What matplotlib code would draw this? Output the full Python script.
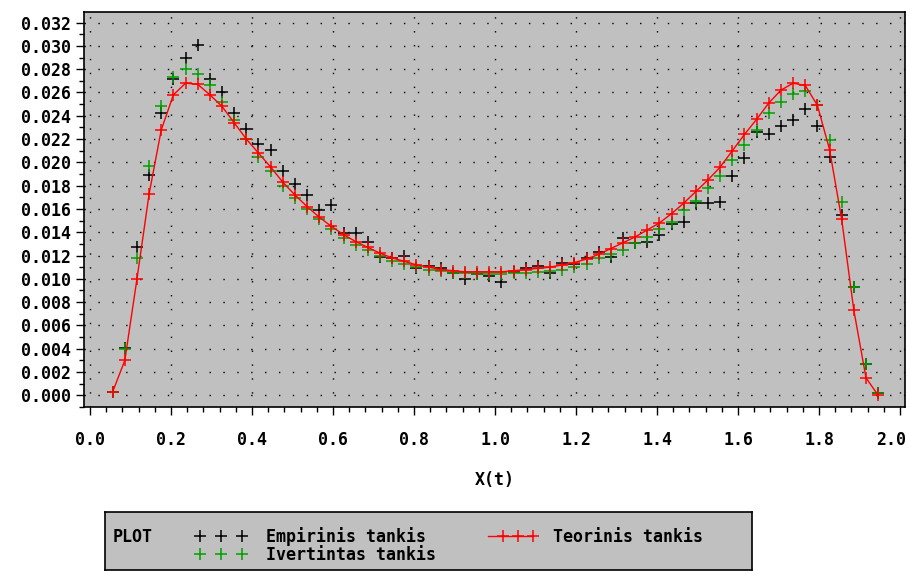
import matplotlib
matplotlib.use("Agg")
import matplotlib.pyplot as plt
from matplotlib.lines import Line2D
from matplotlib.ticker import MultipleLocator, FormatStrFormatter
from matplotlib.transforms import ScaledTranslation

x_vals = [0.056, 0.086, 0.116, 0.146, 0.176, 0.206, 0.236, 0.266, 0.296, 0.326,
          0.356, 0.386, 0.416, 0.446, 0.476, 0.506, 0.536, 0.566, 0.596, 0.626,
          0.656, 0.686, 0.716, 0.746, 0.776, 0.806, 0.836, 0.866, 0.896, 0.926,
          0.956, 0.986, 1.016, 1.046, 1.076, 1.106, 1.136, 1.166, 1.196, 1.226,
          1.256, 1.286, 1.316, 1.346, 1.376, 1.406, 1.436, 1.466, 1.496, 1.526,
          1.556, 1.586, 1.616, 1.646, 1.676, 1.706, 1.736, 1.766, 1.796, 1.826,
          1.856, 1.886, 1.916, 1.946]

empirinis = [0.0003, 0.0041, 0.0127, 0.0189, 0.0242, 0.0272, 0.0290, 0.0301, 0.0272, 0.0260,
             0.0242, 0.0229, 0.0216, 0.0211, 0.0193, 0.0181, 0.0172, 0.0159, 0.0163, 0.0139,
             0.0139, 0.0132, 0.0119, 0.0118, 0.0120, 0.0109, 0.0111, 0.0109, 0.0105, 0.0100,
             0.0104, 0.0102, 0.0097, 0.0106, 0.0109, 0.0111, 0.0105, 0.0114, 0.0113, 0.0118,
             0.0123, 0.0119, 0.0135, 0.0131, 0.0132, 0.0138, 0.0147, 0.0149, 0.0165, 0.0165,
             0.0166, 0.0188, 0.0204, 0.0226, 0.0224, 0.0231, 0.0236, 0.0246, 0.0231, 0.0205,
             0.0155, 0.0093, 0.0027, 0.0002]

ivertintas = [0.0003, 0.0040, 0.0118, 0.0197, 0.0248, 0.0273, 0.0280, 0.0276, 0.0266, 0.0252,
              0.0236, 0.0220, 0.0205, 0.0193, 0.0180, 0.0169, 0.0160, 0.0151, 0.0143, 0.0135,
              0.0129, 0.0125, 0.0120, 0.0115, 0.0113, 0.0110, 0.0108, 0.0107, 0.0105, 0.0105,
              0.0104, 0.0104, 0.0104, 0.0105, 0.0105, 0.0106, 0.0107, 0.0108, 0.0110, 0.0113,
              0.0118, 0.0121, 0.0125, 0.0131, 0.0136, 0.0143, 0.0149, 0.0159, 0.0167, 0.0178,
              0.0188, 0.0202, 0.0215, 0.0228, 0.0242, 0.0252, 0.0259, 0.0261, 0.0249, 0.0219,
              0.0166, 0.0093, 0.0027, 0.0002]

teorinis = [0.0003, 0.0030, 0.0100, 0.0173, 0.0228, 0.0258, 0.0268, 0.0267, 0.0258, 0.0248,
            0.0234, 0.0220, 0.0208, 0.0196, 0.0183, 0.0172, 0.0162, 0.0153, 0.0145, 0.0138,
            0.0132, 0.0127, 0.0122, 0.0118, 0.0115, 0.0112, 0.0110, 0.0108, 0.0107, 0.0106,
            0.0106, 0.0106, 0.0106, 0.0107, 0.0108, 0.0109, 0.0110, 0.0112, 0.0114, 0.0117,
            0.0121, 0.0126, 0.0131, 0.0136, 0.0142, 0.0148, 0.0156, 0.0165, 0.0175, 0.0185,
            0.0196, 0.0210, 0.0224, 0.0237, 0.0251, 0.0262, 0.0268, 0.0266, 0.0249, 0.0211,
            0.0151, 0.0073, 0.0015, 0.0000]

x_ticks = [0.0, 0.2, 0.4, 0.6, 0.8, 1.0, 1.2, 1.4, 1.6, 1.8, 2.0]
series_labels = ["Empirinis tankis", "Ivertintas tankis", "Teorinis tankis"]
x_label = "X(t)"
legend_title = "PLOT"

FONT = "DejaVu Sans Mono"
FS = 12
BG = "#c0c0c0"
GREEN = "#00a000"
RED = "#ff0000"

W, H = 910, 571
fig = plt.figure(figsize=(W / 100, H / 100), dpi=100)
fig.patch.set_facecolor("white")

L, R, T, B = 84, 905, 12, 407
ax = fig.add_axes([L / W, 1 - B / H, (R - L) / W, (B - T) / H])
ax.set_facecolor(BG)

ms = 8
ax.plot(x_vals, empirinis, linestyle="none", marker="+", color="black", ms=ms, mew=1.1, zorder=3)
ax.plot(x_vals, ivertintas, linestyle="none", marker="+", color=GREEN, ms=ms, mew=1.1, zorder=4)
ax.plot(x_vals, teorinis, linestyle="-", lw=1.0, marker="+", color=RED, ms=ms, mew=1.1, zorder=5)

ax.set_xlim(-0.0148, 2.0123)
ax.set_ylim(-0.001005, 0.03291)

ax.set_xticks(x_ticks)
ax.xaxis.set_minor_locator(MultipleLocator(0.04))
ax.yaxis.set_major_locator(MultipleLocator(0.002))
ax.yaxis.set_minor_locator(MultipleLocator(0.001))
ax.xaxis.set_major_formatter(FormatStrFormatter("%.1f"))
ax.yaxis.set_major_formatter(FormatStrFormatter("%.3f"))

ax.tick_params(axis="both", which="major", direction="out", length=6, width=1.0, color="black")
ax.tick_params(axis="both", which="minor", direction="out", length=3.5, width=1.0, color="black")
ax.tick_params(axis="x", which="major", pad=11)
ax.tick_params(axis="y", which="major", pad=3)

for lab in ax.get_xticklabels() + ax.get_yticklabels():
    lab.set_fontfamily(FONT)
    lab.set_fontweight("bold")
    lab.set_fontsize(FS)

# keep the last x tick label inside the figure
last_tick = ax.xaxis.get_major_ticks()[-1]
last_tick.label1.set_transform(last_tick.label1.get_transform()
                               + ScaledTranslation(-9 / 100, 0, fig.dpi_scale_trans))

ax.grid(True, which="major", color="black", linestyle=(0, (1, 9)), linewidth=1.0)
ax.set_axisbelow(True)
for sp in ax.spines.values():
    sp.set_linewidth(1.2)
    sp.set_color("black")

ax.set_xlabel(x_label, fontfamily=FONT, fontweight="bold", fontsize=FS, labelpad=16)

# legend box
LL, LR, LT, LB = 105, 752, 512, 570
lax = fig.add_axes([LL / W, 1 - LB / H, (LR - LL) / W, (LB - LT) / H])
lax.set_facecolor(BG)
lax.set_xlim(LL, LR)
lax.set_ylim(LB, LT)
lax.set_xticks([])
lax.set_yticks([])
for sp in lax.spines.values():
    sp.set_linewidth(1.2)
    sp.set_color("black")

tkw = dict(fontfamily=FONT, fontweight="bold", fontsize=FS, va="center", ha="left")
lax.text(113, 537, legend_title, **tkw)
lax.text(266, 537, series_labels[0], **tkw)
lax.text(266, 555, series_labels[1], **tkw)
lax.text(553, 537, series_labels[2], **tkw)

lax.add_line(Line2D([200, 221, 242], [536, 536, 536], linestyle="none", marker="+",
                    color="black", ms=ms, mew=1.1))
lax.add_line(Line2D([200, 221, 242], [554, 554, 554], linestyle="none", marker="+",
                    color=GREEN, ms=ms, mew=1.1))
lax.add_line(Line2D([488, 533], [536, 536], color=RED, lw=1.0))
lax.add_line(Line2D([503, 518, 533], [536, 536, 536], linestyle="none", marker="+",
                    color=RED, ms=ms, mew=1.1))

fig.savefig("out.png", dpi=100, facecolor="white")
